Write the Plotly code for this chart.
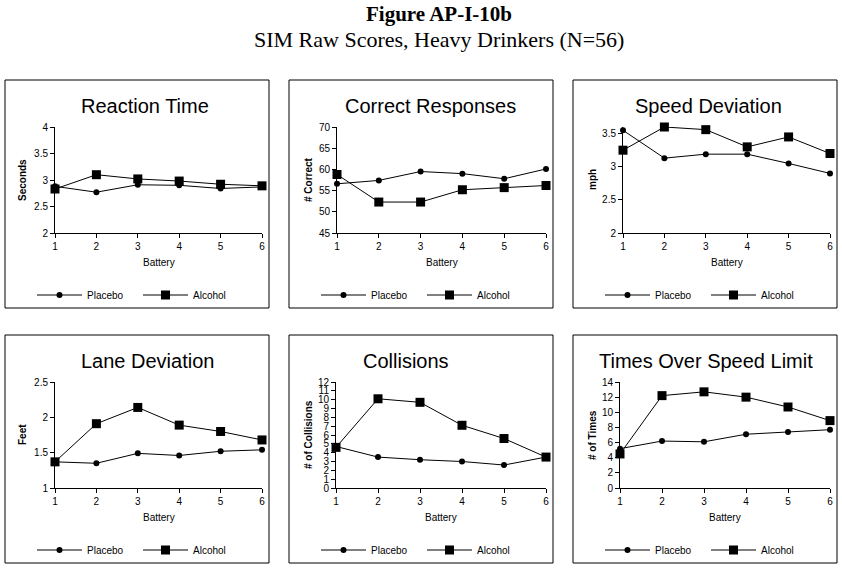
import plotly.graph_objects as go

W, H = 842, 585

battery = [1, 2, 3, 4, 5, 6]

titles = ["Reaction Time", "Correct Responses", "Speed Deviation",
          "Lane Deviation", "Collisions", "Times Over Speed Limit"]
y_titles = ["Seconds", "# Correct", "mph", "Feet", "# of Collisions", "# of Times"]

placebo_rt = [2.88, 2.77, 2.91, 2.90, 2.84, 2.87]
alcohol_rt = [2.83, 3.10, 3.02, 2.98, 2.92, 2.89]

placebo_cr = [56.6, 57.4, 59.5, 59.0, 57.8, 60.1]
alcohol_cr = [58.8, 52.3, 52.3, 55.2, 55.7, 56.2]

placebo_sd = [3.55, 3.13, 3.19, 3.19, 3.05, 2.90]
alcohol_sd = [3.25, 3.60, 3.56, 3.30, 3.45, 3.20]

placebo_ld = [1.37, 1.35, 1.49, 1.46, 1.52, 1.54]
alcohol_ld = [1.37, 1.91, 2.14, 1.89, 1.80, 1.68]

placebo_col = [4.7, 3.5, 3.2, 3.0, 2.6, 3.5]
alcohol_col = [4.6, 10.1, 9.7, 7.1, 5.6, 3.5]

placebo_tos = [5.2, 6.2, 6.1, 7.1, 7.4, 7.7]
alcohol_tos = [4.5, 12.2, 12.7, 12.0, 10.7, 8.9]

placebo = [placebo_rt, placebo_cr, placebo_sd, placebo_ld, placebo_col, placebo_tos]
alcohol = [alcohol_rt, alcohol_cr, alcohol_sd, alcohol_ld, alcohol_col, alcohol_tos]

y_ranges = [[2, 4], [45, 70], [2, 3.6], [1, 2.5], [0, 12], [0, 14]]
y_ticks = [[2, 2.5, 3, 3.5, 4], [45, 50, 55, 60, 65, 70], [2, 2.5, 3, 3.5],
           [1, 1.5, 2, 2.5], list(range(0, 13)), list(range(0, 15, 2))]

# layout geometry in pixels
boxes = [(5, 80, 269, 308), (289, 80, 553, 308), (573, 80, 837, 308),
         (5, 335, 269, 563), (289, 335, 553, 563), (573, 335, 837, 563)]
plot_x = [(55, 262), (337, 546), (623, 830), (55, 262), (336, 546), (620, 830)]
plot_y = [(127, 233)] * 3 + [(382, 488)] * 3
title_cx = [145, 430, 708, 147, 406, 706]
title_cy = [106, 106, 106, 361, 361, 361]
ytitle_x = [22, 308, 592, 22, 308, 592]
legend_y = [295, 295, 295, 550, 550, 550]

def px(x):
    return x / W

def py(y):
    return 1 - y / H

FONT = "Liberation Sans, Arial, sans-serif"

fig = go.Figure()
layout = dict(
    width=W, height=H, margin=dict(l=0, r=0, t=0, b=0, autoexpand=False),
    paper_bgcolor="white", plot_bgcolor="white",
    font=dict(family=FONT, color="black", size=10),
    shapes=[], annotations=[],
)

for i in range(6):
    n = i + 1
    xa = "x" if n == 1 else f"x{n}"
    ya = "y" if n == 1 else f"y{n}"
    lg = "legend" if n == 1 else f"legend{n}"
    fig.add_trace(go.Scatter(
        x=battery, y=placebo[i], mode="lines+markers", name="Placebo",
        xaxis=xa, yaxis=ya, legend=lg, cliponaxis=False,
        line=dict(color="black", width=1),
        marker=dict(symbol="circle", size=6, color="black"),
    ))
    fig.add_trace(go.Scatter(
        x=battery, y=alcohol[i], mode="lines+markers", name="Alcohol",
        xaxis=xa, yaxis=ya, legend=lg, cliponaxis=False,
        line=dict(color="black", width=1),
        marker=dict(symbol="square", size=9, color="black"),
    ))
    xk = "xaxis" if n == 1 else f"xaxis{n}"
    yk = "yaxis" if n == 1 else f"yaxis{n}"
    layout[xk] = dict(
        domain=[px(plot_x[i][0]), px(plot_x[i][1])], anchor=ya,
        range=[1, 6], tickvals=battery, showgrid=False, zeroline=False,
        showline=True, linecolor="black", linewidth=1,
        ticks="outside", ticklen=4, tickcolor="black", tickwidth=1,
        tickfont=dict(size=10, family=FONT, color="black"),
    )
    layout[yk] = dict(
        domain=[py(plot_y[i][1]), py(plot_y[i][0])], anchor=xa,
        range=y_ranges[i], tickvals=y_ticks[i], showgrid=False, zeroline=False,
        showline=True, linecolor="black", linewidth=1,
        ticks="outside", ticklen=4, tickcolor="black", tickwidth=1,
        tickfont=dict(size=10, family=FONT, color="black"),
    )
    layout[lg] = dict(
        orientation="h", x=px(boxes[i][0] + 27), y=py(legend_y[i]),
        xanchor="left", yanchor="middle", bgcolor="rgba(0,0,0,0)",
        font=dict(size=10, family=FONT, color="black"),
        entrywidth=46, entrywidthmode="pixels", itemwidth=45,
        borderwidth=0,
    )
    x0, y0, x1, y1 = boxes[i]
    layout["shapes"].append(dict(
        type="rect", xref="paper", yref="paper",
        x0=px(x0), x1=px(x1), y0=py(y1), y1=py(y0),
        line=dict(color="black", width=1), fillcolor="rgba(0,0,0,0)",
    ))
    layout["annotations"].append(dict(
        text=titles[i], xref="paper", yref="paper",
        x=px(title_cx[i]), y=py(title_cy[i]), xanchor="center", yanchor="middle",
        showarrow=False, font=dict(size=20, family=FONT, color="black"),
    ))
    layout["annotations"].append(dict(
        text="Battery", xref="paper", yref="paper",
        x=px((plot_x[i][0] + plot_x[i][1]) / 2), y=py(plot_y[i][1] + 29),
        xanchor="center", yanchor="middle",
        showarrow=False, font=dict(size=10, family=FONT, color="black"),
    ))
    layout["annotations"].append(dict(
        text="<b>" + y_titles[i] + "</b>", xref="paper", yref="paper",
        x=px(ytitle_x[i]), y=py((plot_y[i][0] + plot_y[i][1]) / 2),
        xanchor="center", yanchor="middle", textangle=-90,
        showarrow=False, font=dict(size=10, family=FONT, color="black"),
    ))

layout["annotations"].append(dict(
    text="<b>Figure AP-I-10b</b>", xref="paper", yref="paper",
    x=px(439), y=py(14), xanchor="center", yanchor="middle", showarrow=False,
    font=dict(size=21, family="Liberation Serif, Times New Roman, serif", color="black"),
))
layout["annotations"].append(dict(
    text="SIM Raw Scores, Heavy Drinkers (N=56)", xref="paper", yref="paper",
    x=px(439), y=py(40), xanchor="center", yanchor="middle", showarrow=False,
    font=dict(size=22, family="Liberation Serif, Times New Roman, serif", color="black"),
))

fig.update_layout(**layout)
fig.write_html("out.html", config={"displayModeBar": False},
               post_script="document.body.style.margin='0';")
